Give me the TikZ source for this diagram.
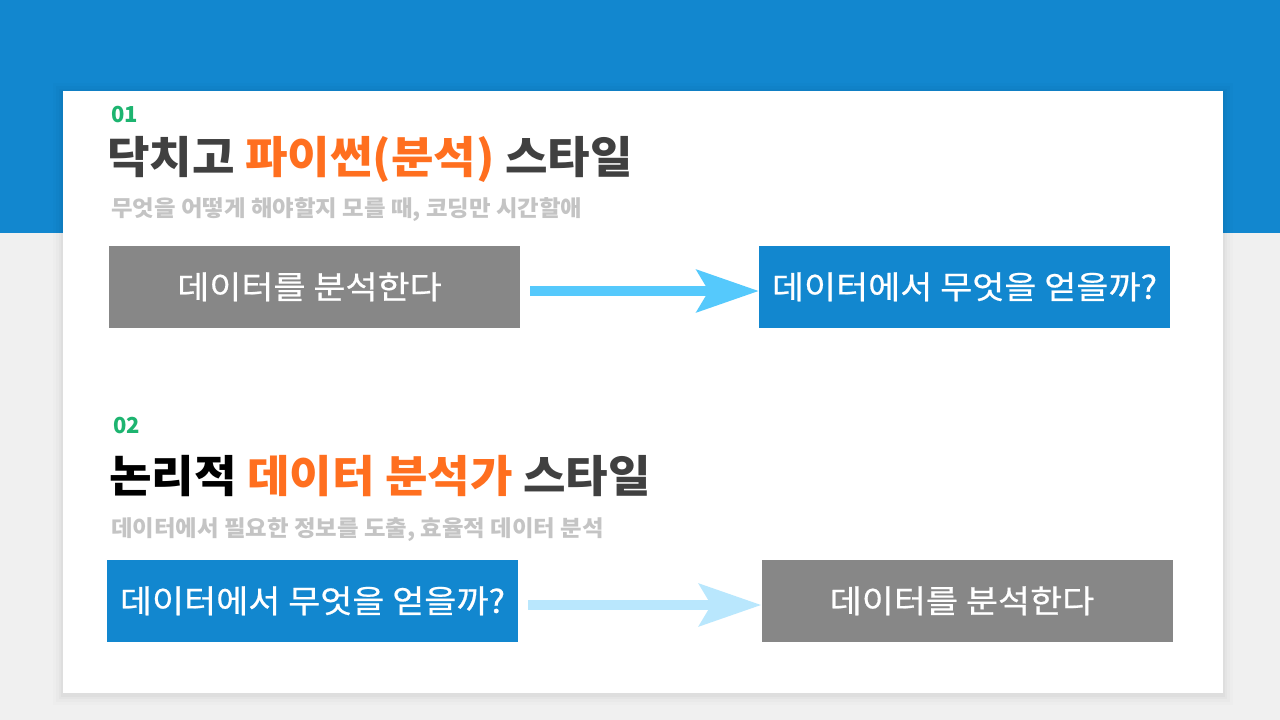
\documentclass[tikz,border=0pt]{standalone}
\usepackage{fontspec}
\setmainfont{Noto Sans CJK KR}
\newfontfamily\titlefont{Noto Sans CJK KR}[FakeStretch=1.05]
\newfontfamily\boxfont{Noto Sans CJK KR}[FakeStretch=1.09, FakeBold=0.6]
\usetikzlibrary{arrows.meta}
\definecolor{bandblue}{HTML}{1287CF}
\definecolor{pagebg}{HTML}{F0F0F0}
\definecolor{boxgray}{HTML}{878787}
\definecolor{arrowA}{HTML}{55C9FC}
\definecolor{arrowB}{HTML}{B9E7FD}
\definecolor{numgreen}{HTML}{1DB470}
\definecolor{titledark}{HTML}{404040}
\definecolor{orangeT}{HTML}{FF6F1F}
\definecolor{subgray}{HTML}{C4C4C4}
\tikzset{
  stepbox/.style={minimum width=411pt, minimum height=82pt, inner sep=0pt, text=white,
    font=\boxfont\fontsize{32}{36}\selectfont, text height=26.2pt, text depth=2.6pt},
  graybox/.style={stepbox, fill=boxgray},
  bluebox/.style={stepbox, fill=bandblue},
  graytext/.style={stepbox, text=white},
  numlabel/.style={anchor=base west, inner sep=0pt, text=numgreen, font=\bfseries\fontsize{22}{24}\selectfont},
  titlelabel/.style={anchor=base west, inner sep=0pt, text=titledark, font=\titlefont\bfseries\fontsize{44}{50}\selectfont},
  sublabel/.style={anchor=base west, inner sep=0pt, text=subgray, font=\titlefont\bfseries\fontsize{22.3}{24}\selectfont},
  bigarrow/.style={line width=10pt, shorten <=10pt, -{Stealth[length=62pt, width=42pt, inset=12pt]}}
}
\begin{document}
\begin{tikzpicture}[x=1pt, y=-1pt]
\useasboundingbox (0,0) rectangle (1280,720);
\fill[pagebg] (0,0) rectangle (1280,720);
\fill[bandblue] (0,0) rectangle (1280,233);
% card shadow
\foreach \d/\o in {10/0.01,7/0.015,4/0.02,2/0.025}{
  \fill[black, opacity=\o] (63-\d,91-\d+2) rectangle (1223+\d,693+\d+2);
}
\fill[white] (63,91) rectangle (1223,693);

% section 1
\node[numlabel] (n1) at (111,122) {01};
\node[titlelabel] (t1) at (107,173) {닥치고 \textcolor{orangeT}{파이썬(분석)} 스타일};
\node[sublabel] (s1) at (111,216) {무엇을 어떻게 해야할지 모를 때, 코딩만 시간할애};
\node[graybox] (g1) at (314.5,287) {};
\node[graytext, xshift=-5pt] (g1t) at (g1.center) {데이터를 분석한다};
\node[bluebox] (b1) at (964.5,287) {데이터에서 무엇을 얻을까?};
\draw[bigarrow, arrowA] (g1.east |- 0,291) -- (b1.west |- 0,291);

% section 2
\node[numlabel] (n2) at (113,433) {02};
\node[titlelabel] (t2) at (109,492) {\textcolor{black}{논리적} \textcolor{orangeT}{데이터 분석가} 스타일};
\node[sublabel] (s2) at (111,536) {데이터에서 필요한 정보를 도출, 효율적 데이터 분석};
\node[bluebox] (b2) at (312.5,601) {데이터에서 무엇을 얻을까?};
\node[graybox] (g2) at (967,601) {};
\node[graytext, xshift=-5pt] (g2t) at (g2.center) {데이터를 분석한다};
\draw[bigarrow, arrowB] (b2.east |- 0,605) -- (g2.west |- 0,605);
\end{tikzpicture}
\end{document}
